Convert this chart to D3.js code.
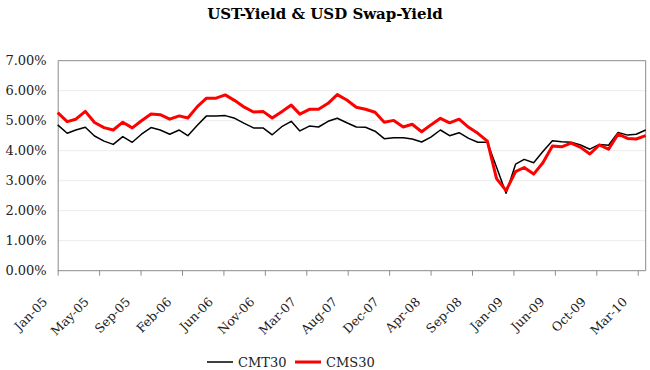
<!DOCTYPE html>
<html>
<head>
<meta charset="utf-8">
<script src="https://cdn.jsdelivr.net/npm/d3@7"></script>
<style>
  body { margin: 0; background: #fff; }
  svg text { font-family: "DejaVu Serif", serif; fill: #222; }
</style>
</head>
<body>
<svg id="chart" width="650" height="370"></svg>
<script>
// Monthly points, Jan-05 .. Apr-10
var startMonth = Date.UTC(2005, 0, 1);
var monthCount = 64;

// CMT30 (UST 30y constant maturity), in %
var cmt30 = [4.86, 4.58, 4.69, 4.78, 4.49, 4.32, 4.21, 4.47, 4.28, 4.55,
             4.77, 4.69, 4.55, 4.69, 4.50, 4.85, 5.16, 5.16, 5.17, 5.08,
             4.91, 4.76, 4.76, 4.53, 4.80, 4.98, 4.66, 4.82, 4.79, 4.98,
             5.08, 4.93, 4.79, 4.78, 4.65, 4.40, 4.43, 4.43, 4.39, 4.29,
             4.45, 4.69, 4.50, 4.60, 4.41, 4.28, 4.28, 3.45, 2.58, 3.55,
             3.71, 3.60, 3.97, 4.33, 4.30, 4.28, 4.19, 4.05, 4.21, 4.18,
             4.61, 4.52, 4.55, 4.69];

// CMS30 (USD 30y swap), in %
var cms30 = [5.27, 4.97, 5.05, 5.31, 4.94, 4.77, 4.69, 4.95, 4.76, 5.00,
             5.22, 5.20, 5.05, 5.16, 5.09, 5.47, 5.75, 5.75, 5.86, 5.67,
             5.45, 5.29, 5.31, 5.09, 5.30, 5.52, 5.22, 5.38, 5.38, 5.58,
             5.87, 5.69, 5.45, 5.38, 5.28, 4.95, 5.01, 4.79, 4.88, 4.63,
             4.86, 5.08, 4.93, 5.05, 4.78, 4.58, 4.32, 3.07, 2.67, 3.30,
             3.44, 3.22, 3.60, 4.16, 4.13, 4.25, 4.11, 3.89, 4.19, 4.05,
             4.55, 4.41, 4.39, 4.50];

// x tick labels (Excel date axis, major unit 135 days)
var tickLabels = ["Jan-05", "May-05", "Sep-05", "Feb-06", "Jun-06", "Nov-06", "Mar-07",
                  "Aug-07", "Dec-07", "Apr-08", "Sep-08", "Jan-09", "Jun-09", "Oct-09", "Mar-10"];
var tickStepDays = 135;

var yTicks = [0, 1, 2, 3, 4, 5, 6, 7];

var seriesNames = ["CMT30", "CMS30"];
var seriesColors = ["#000000", "#ff0000"];
var seriesWidths = [1.5, 3];

// Dimensions
var margin = {top: 60.7, right: 4.3, bottom: 99.3, left: 57.7},
    innerWidth = 650 - margin.left - margin.right,
    innerHeight = 370 - margin.top - margin.bottom;

var dates = d3.range(monthCount).map(function(i) { return d3.utcMonth.offset(new Date(startMonth), i); });

var svg = d3.select("#chart");

svg.append("text")
  .attr("x", 325)
  .attr("y", 19)
  .attr("text-anchor", "middle")
  .style("font-weight", "bold")
  .style("font-size", "15px")
  .style("fill", "#000")
  .text("UST-Yield & USD Swap-Yield");

var innerChart = svg.append("g")
  .attr("transform", "translate(" + margin.left + "," + margin.top + ")");

var xScale = d3.scaleUtc()
  .domain([dates[0], dates[dates.length - 1]])
  .range([0, innerWidth]);

var yScale = d3.scaleLinear()
  .domain([0, 7])
  .range([innerHeight, 0]);

// gridlines
innerChart.selectAll(".grid").data(yTicks.slice(1, -1)).join("line")
  .attr("class", "grid")
  .attr("x1", 0).attr("x2", innerWidth)
  .attr("y1", function(d) { return yScale(d); })
  .attr("y2", function(d) { return yScale(d); })
  .attr("stroke", "#ececec").attr("stroke-width", 1);

// plot border (top + right)
innerChart.append("path")
  .attr("d", "M0," + yScale(7) + "H" + innerWidth + "V" + innerHeight)
  .attr("fill", "none").attr("stroke", "#8c8c8c").attr("stroke-width", 1);

// y axis
var yAxis = d3.axisLeft(yScale).tickValues(yTicks).tickSize(0).tickPadding(11)
  .tickFormat(function(d) { return d3.format(".2f")(d) + "%"; });
var gy = innerChart.append("g").attr("class", "y-axis").call(yAxis);
gy.select(".domain").attr("stroke", "#8c8c8c");
gy.selectAll("text").style("font-size", "13px").style("font-family", "DejaVu Serif, serif").attr("fill", "#222");

// x axis
var tickDates = tickLabels.map(function(l, k) { return new Date(startMonth + k * tickStepDays * 864e5); });
var xAxis = d3.axisBottom(xScale).tickValues(tickDates).tickSize(5)
  .tickFormat(function(d, k) { return tickLabels[k]; });
var gx = innerChart.append("g").attr("class", "x-axis")
  .attr("transform", "translate(0," + innerHeight + ")")
  .call(xAxis);
gx.select(".domain").attr("stroke", "#8c8c8c").attr("d", "M0,0H" + innerWidth);
gx.selectAll(".tick line").attr("stroke", "#8c8c8c");
gx.selectAll("text")
  .style("font-size", "12.5px").style("font-family", "DejaVu Serif, serif").attr("fill", "#222")
  .attr("text-anchor", "end")
  .attr("dy", "0")
  .attr("y", 0)
  .attr("transform", "translate(-10,32) rotate(-45)");

// lines
var line = d3.line()
  .x(function(d, i) { return xScale(dates[i]); })
  .y(function(d) { return yScale(d); });

[cmt30, cms30].forEach(function(s, k) {
  innerChart.append("path")
    .datum(s)
    .attr("fill", "none")
    .attr("stroke", seriesColors[k])
    .attr("stroke-width", seriesWidths[k])
    .attr("stroke-linejoin", "round")
    .attr("d", line);
});

// legend
var legendX = [207, 295];
var legend = svg.selectAll(".legend").data(seriesNames).join("g")
  .attr("class", "legend")
  .attr("transform", function(d, k) { return "translate(" + legendX[k] + ",362)"; });
legend.append("line")
  .attr("x1", 0).attr("x2", 26).attr("y1", 0).attr("y2", 0)
  .attr("stroke", function(d, k) { return seriesColors[k]; })
  .attr("stroke-width", function(d, k) { return seriesWidths[k]; });
legend.append("text")
  .attr("x", 31).attr("y", 4.5)
  .style("font-size", "13px")
  .text(function(d) { return d; });
</script>
</body>
</html>
